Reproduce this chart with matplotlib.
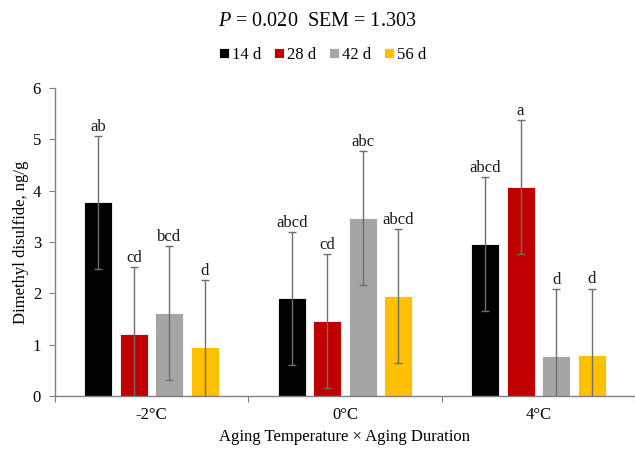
import matplotlib
matplotlib.use("Agg")
import matplotlib.pyplot as plt
import numpy as np

plt.rcParams['font.family'] = ['Liberation Serif', 'DejaVu Serif']
plt.rcParams['mathtext.fontset'] = 'custom'
plt.rcParams['mathtext.rm'] = 'Liberation Serif'
plt.rcParams['mathtext.it'] = 'Liberation Serif:italic'

categories = ['-2°C', '0°C', '4°C']
series_names = ['14 d', '28 d', '42 d', '56 d']
values = {
    '14 d': [3.77, 1.90, 2.96],
    '28 d': [1.21, 1.46, 4.07],
    '42 d': [1.61, 3.46, 0.78],
    '56 d': [0.96, 1.95, 0.79],
}
letters = {
    '14 d': ['ab', 'abcd', 'abcd'],
    '28 d': ['cd', 'cd', 'a'],
    '42 d': ['bcd', 'abc', 'd'],
    '56 d': ['d', 'abcd', 'd'],
}
sem = 1.303
colors = ['#000000', '#C00000', '#A5A5A5', '#FFC000']
yticks = [0, 1, 2, 3, 4, 5, 6]

fig = plt.figure(figsize=(6.35, 4.51), dpi=100)
ax = fig.add_axes([0.0866, 0.122, 0.9134, 0.683])

x = np.arange(len(categories))
spacing = 0.184
width = 0.145
for i, name in enumerate(series_names):
    pos = x + (i - 1.5) * spacing
    vals = np.array(values[name])
    ax.bar(pos, vals, width, color=colors[i], edgecolor='white', linewidth=0.6, label=name, zorder=2)
    ax.errorbar(pos, vals, yerr=sem, fmt='none', ecolor='#6e6e6e', elinewidth=1.0,
                capsize=3, capthick=1.0, zorder=3, clip_on=True)
    for p, v, l in zip(pos, vals, letters[name]):
        ax.text(p, v + sem + 0.02, l, ha='center', va='bottom', fontsize=12, color='#1a1a1a')

ax.set_xlim(-0.5, 2.5)
ax.set_ylim(0, 6)
ax.set_yticks(yticks)
ax.set_yticklabels([str(t) for t in yticks], fontsize=12)
ax.set_xticks([-0.5, 0.5, 1.5, 2.5], minor=False)
ax.set_xticklabels([])
ax.set_xticks(x, minor=True)
ax.set_xticklabels(categories, minor=True, fontsize=12)
ax.tick_params(axis='x', which='major', direction='out', length=4, color='#808080')
ax.tick_params(axis='x', which='minor', length=0, pad=8)
ax.tick_params(axis='y', direction='out', length=4, color='#808080', pad=6)
for s in ['top', 'right']:
    ax.spines[s].set_visible(False)
for s in ['left', 'bottom']:
    ax.spines[s].set_color('#808080')
    ax.spines[s].set_linewidth(1.0)

ax.set_ylabel('Dimethyl disulfide, ng/g', fontsize=12, labelpad=3)
ax.set_xlabel('Aging Temperature × Aging Duration', fontsize=12, labelpad=4)

fig.text(0.5, 0.953, r'$\mathit{P}$ = 0.020  SEM = 1.303', ha='center', va='center', fontsize=14.5)
fig.legend(loc='center', bbox_to_anchor=(0.508, 0.878), ncol=4, frameon=False, fontsize=12,
           handlelength=0.6, handleheight=0.6, handletextpad=0.2, columnspacing=0.75,
           borderpad=0.2)

fig.savefig('out.png', dpi=100)
